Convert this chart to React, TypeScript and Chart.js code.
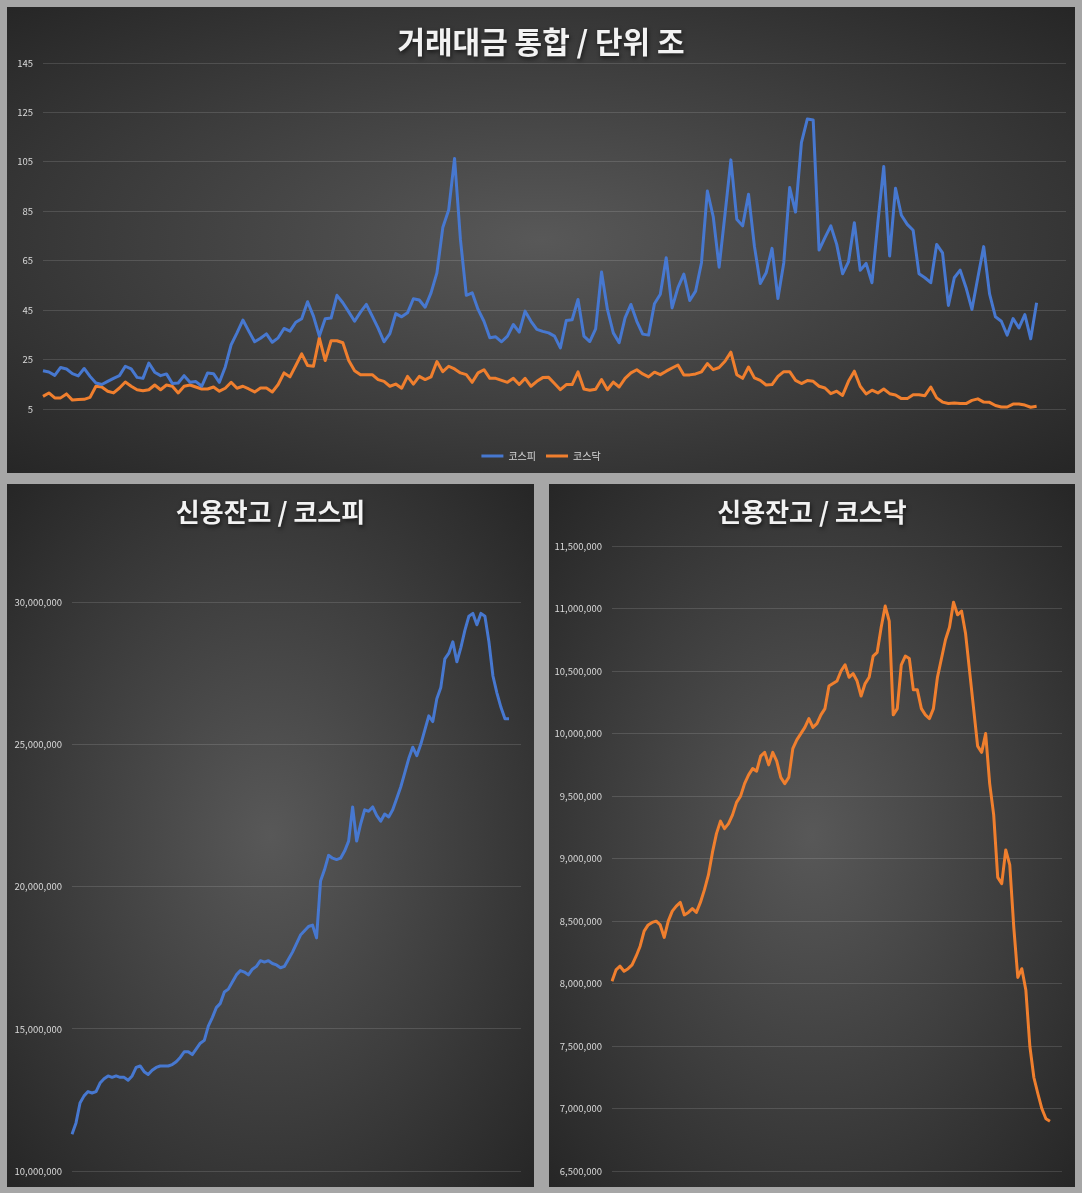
import React, { useEffect, useRef } from "react";
import { Chart, registerables } from "chart.js";

Chart.register(...registerables);

// ---------- data ----------
// 거래대금 (단위: 조)
const kospiTurnover = [
  20.5, 20, 18.6, 21.8, 21.2, 19.3, 18.4, 21.4, 18.2, 15.5, 14.9, 16.2, 17.4, 18.5, 22.3, 21.2, 17.8, 17.4, 23.6, 19.9,
  18.5, 19.2, 15.3, 15.5, 18.5, 15.8, 16.1, 14.2, 19.6, 19.3, 15.8, 22, 31, 35.8, 41, 36.5, 32.2, 33.6, 35.4, 32,
  33.8, 37.6, 36.5, 40.1,
  41.5, 48.4, 42.6, 34.5, 41.5, 41.8, 51, 48, 44.3, 40.5, 44.2, 47.3, 42.6, 37.7, 32.2, 35.5, 43.6, 42.3, 43.9, 49.6,
  49.1, 46.2, 52, 60.1, 78.4, 85.5, 106.4, 73.6, 51, 52, 45.3, 40.5, 33.8, 34.2, 32.2, 34.5, 39.2, 36.1, 44.6, 40.5,
  37.2, 36.4, 35.8,
  34.5, 29.7, 40.8, 41.1, 49.3, 34.5, 32.3, 37.4, 60.4, 45.3, 35.8, 31.8, 41.9, 47.3, 40.5, 35.3, 34.9, 47.6, 51.4, 66.2,
  45.9, 54.1, 59.6, 48.9, 52.7, 64.2, 93.2, 82.8, 62.4, 83.8, 105.8, 81.8, 79.1, 91.9, 70.9, 55.8, 60.1, 70, 49.7, 64.2,
  94.6, 84.7,
  112.8, 122.3, 121.9, 69.3, 74.3, 79.1, 71.6, 59.7, 64.5, 80.4, 61.1, 63.9, 56.1, 80.4, 103.1, 66.9, 94.3, 83.4, 79.7, 77.3,
  59.7, 58.1, 56.1, 71.6, 68.2, 46.9, 58.1, 61.2, 54.1, 45.3, 58.1, 70.7, 51.6, 42.3, 40.5, 34.9, 41.6, 37.8, 43.2, 33.4,
  48,
];
const kosdaqTurnover = [
  10.1, 11.5, 9.5, 9.5, 11.1, 8.6, 8.8, 8.9, 9.7, 14.2, 13.9, 12.2, 11.5, 13.5, 15.9, 14.2, 12.8, 12.4, 12.8, 14.7,
  12.8, 14.7, 14.2, 11.5, 14.2, 14.7, 13.9, 13.1, 13.1, 13.9, 12.2, 13.4, 15.8, 13.4, 14.2, 13.1, 11.9, 13.5, 13.5, 11.9,
  14.9, 19.6, 18, 22.6,
  27.3, 22.6, 22.3, 33.8, 24.6, 32.6, 32.6, 31.8, 24.6, 20.5, 18.9, 18.9, 18.9, 16.9, 16.2, 14.2, 15.1, 13.4, 18.2, 15.1,
  18.2, 16.9, 18, 24.2, 20.1, 22.3, 21.2, 19.6, 18.9, 15.8, 19.6, 20.9, 17.4, 17.4, 16.6, 15.8, 17.4, 14.9, 17.4, 14.2,
  16.2, 17.7, 17.8,
  15.3, 12.8, 14.9, 14.9, 20, 13.1, 12.6, 13, 16.9, 12.8, 15.9, 13.9, 17.4, 19.6, 20.9, 19.2, 18, 19.9, 18.9, 20.3,
  21.6, 22.8, 18.8, 18.8, 19.2, 20, 23.4, 20.9, 21.8, 24.3, 28, 18.9, 17.4, 22, 17.6, 16.6, 14.7, 14.9, 18.2, 20.1,
  20.1, 16.6,
  15.3, 16.5, 16.2, 14.2, 13.5, 11.2, 12.2, 10.5, 16.2, 20.3, 14.2, 11.1, 12.6, 11.5, 13.1, 11.2, 10.7, 9.2, 9.2, 10.8,
  10.8, 10.4, 13.9, 9.5, 7.8, 7.2, 7.4, 7.2, 7.2, 8.5, 9.1, 7.8, 7.7, 6.4, 5.8, 5.8, 7, 7, 6.6, 5.7,
  6.1,
];
const turnoverAxis = { min: 5, max: 145, step: 20 };
const turnoverEmptyTail = 5;

// 신용잔고 / 코스피 (values in millions of won)
const kospiCreditM = [
  11.3, 11.7, 12.4, 12.65, 12.8, 12.75, 12.8, 13.1, 13.25, 13.35,
  13.3, 13.35, 13.3, 13.3, 13.2, 13.35, 13.65, 13.7, 13.5, 13.4,
  13.55, 13.65, 13.7, 13.7, 13.7, 13.75, 13.85, 14.0, 14.2, 14.2,
  14.1, 14.3, 14.5, 14.6, 15.1, 15.4, 15.75, 15.9, 16.3, 16.4,
  16.65, 16.9, 17.05, 17.0, 16.9, 17.1, 17.2, 17.4, 17.35, 17.4,
  17.3, 17.25, 17.15, 17.2, 17.45, 17.7, 18.0, 18.3, 18.45, 18.6,
  18.65, 18.2, 20.2, 20.6, 21.1, 21.0, 20.95, 21.0, 21.25, 21.6,
  22.8, 21.6, 22.2, 22.7, 22.65, 22.8, 22.5, 22.3, 22.55, 22.45,
  22.7, 23.1, 23.5, 24.0, 24.5, 24.9, 24.6, 25.0, 25.5, 26.0,
  25.8, 26.6, 27.0, 28.0, 28.2, 28.6, 27.9, 28.4, 29.0, 29.5,
  29.6, 29.2, 29.6, 29.5, 28.6, 27.4, 26.8, 26.3, 25.9, 25.9,
];
const kospiCreditAxis = { min: 10000000, max: 30000000, step: 5000000 };

// 신용잔고 / 코스닥 (values in millions of won)
const kosdaqCreditM = [
  8.02, 8.11, 8.14, 8.1, 8.12, 8.15, 8.22, 8.3, 8.42, 8.47,
  8.49, 8.5, 8.47, 8.37, 8.5, 8.58, 8.62, 8.65, 8.55, 8.57,
  8.6, 8.57, 8.65, 8.75, 8.87, 9.05, 9.2, 9.3, 9.24, 9.28,
  9.35, 9.45, 9.5, 9.6, 9.67, 9.72, 9.7, 9.82, 9.85, 9.75,
  9.85, 9.78, 9.65, 9.6, 9.65, 9.88, 9.95, 10.0, 10.05, 10.12,
  10.05, 10.08, 10.15, 10.2, 10.38, 10.4, 10.42, 10.5, 10.55, 10.45,
  10.48, 10.42, 10.3, 10.4, 10.45, 10.62, 10.65, 10.85, 11.02, 10.9,
  10.15, 10.2, 10.55, 10.62, 10.6, 10.35, 10.35, 10.2, 10.15, 10.12,
  10.2, 10.45, 10.6, 10.75, 10.85, 11.05, 10.95, 10.98, 10.8, 10.5,
  10.2, 9.9, 9.85, 10.0, 9.6, 9.35, 8.85, 8.8, 9.07, 8.95,
  8.45, 8.05, 8.12, 7.95, 7.5, 7.25, 7.12, 7.0, 6.92, 6.9,
];
const kosdaqCreditAxis = { min: 6500000, max: 11500000, step: 500000 };
const creditEmptyTail = 3;

const seriesNames = ["코스피", "코스닥"];
const titles = ["거래대금 통합 / 단위 조", "신용잔고 / 코스피", "신용잔고 / 코스닥"];

// ---------- styles ----------
const FONT = "'Noto Sans CJK KR', 'Noto Sans', sans-serif";
const BLUE = "#4778d0";
const ORANGE = "#f07f2e";
const GRID = "rgba(255,255,255,0.13)";
const TICK = "#d9d9d9";
const PANEL_BG = "radial-gradient(ellipse farthest-corner at 50% 50%, #585858 0%, #3d3d3d 55%, #262626 100%)";

const makeLabels = (n: number) => Array.from({ length: n }, (_, i) => String(i + 1));
const fmt = (v: any) => Number(v).toLocaleString("en-US");

// Center title and legend on the whole canvas, and give the title a soft drop shadow.
const centerBlocks = {
  id: "centerBlocks",
  afterLayout(chart: any) {
    for (const b of [chart.titleBlock, chart.legend]) {
      if (b && b.options && b.options.display) {
        b.left = 0;
        b.right = chart.width;
        b.width = chart.width;
      }
    }
    const t = chart.titleBlock;
    if (t && !t.__shadowed) {
      const orig = t.draw.bind(t);
      t.draw = (...args: any[]) => {
        const ctx = chart.ctx;
        ctx.save();
        ctx.shadowColor = "rgba(0,0,0,0.65)";
        ctx.shadowBlur = 4;
        ctx.shadowOffsetX = 1;
        ctx.shadowOffsetY = 2;
        orig(...args);
        ctx.restore();
      };
      t.__shadowed = true;
    }
  },
};

function lineDs(label: string, data: number[], color: string) {
  return {
    label,
    data,
    borderColor: color,
    backgroundColor: color,
    borderWidth: 3,
    pointRadius: 0,
    pointHoverRadius: 0,
    tension: 0,
    borderJoinStyle: "round" as const,
  };
}

function topConfig(): any {
  return {
    type: "line",
    data: {
      labels: makeLabels(kospiTurnover.length + turnoverEmptyTail),
      datasets: [lineDs(seriesNames[0], kospiTurnover, BLUE), lineDs(seriesNames[1], kosdaqTurnover, ORANGE)],
    },
    plugins: [centerBlocks],
    options: {
      responsive: false,
      animation: false,
      devicePixelRatio: 1,
      layout: { padding: { left: 0, right: 9, top: 0, bottom: 2 } },
      plugins: {
        title: {
          display: true,
          text: titles[0],
          color: "#f2f2f2",
          font: { size: 30, weight: "bold", family: FONT, lineHeight: 1.2 },
          padding: { top: 17, bottom: 3 },
        },
        legend: {
          position: "bottom",
          labels: {
            color: TICK,
            font: { size: 10, family: FONT },
            usePointStyle: true,
            pointStyle: "line",
            pointStyleWidth: 22,
            padding: 10,
          },
        },
        tooltip: { enabled: false },
      },
      scales: {
        x: {
          display: true,
          grid: { display: false },
          border: { display: false },
          ticks: { display: false },
          afterFit: (s: any) => {
            s.height = 32;
          },
        },
        y: {
          min: turnoverAxis.min,
          max: turnoverAxis.max,
          ticks: { stepSize: turnoverAxis.step, color: TICK, font: { size: 9.5, family: FONT }, padding: 10 },
          grid: { color: GRID, drawTicks: false },
          border: { display: false },
          afterFit: (s: any) => {
            s.width = 36;
          },
        },
      },
    },
  };
}

function creditConfig(
  title: string,
  name: string,
  valuesM: number[],
  color: string,
  axis: { min: number; max: number; step: number },
  yWidth: number,
  pad: { right: number; bottom: number; titleTop: number; titleBottom: number }
): any {
  return {
    type: "line",
    data: {
      labels: makeLabels(valuesM.length + creditEmptyTail),
      datasets: [lineDs(name, valuesM.map((v) => Math.round(v * 1000000)), color)],
    },
    plugins: [centerBlocks],
    options: {
      responsive: false,
      animation: false,
      devicePixelRatio: 1,
      layout: { padding: { left: 0, right: pad.right, top: 0, bottom: pad.bottom } },
      plugins: {
        title: {
          display: true,
          text: title,
          color: "#f2f2f2",
          font: { size: 26, weight: "bold", family: FONT, lineHeight: 1.2 },
          padding: { top: pad.titleTop, bottom: pad.titleBottom },
        },
        legend: { display: false },
        tooltip: { enabled: false },
      },
      scales: {
        x: { display: false },
        y: {
          min: axis.min,
          max: axis.max,
          ticks: {
            stepSize: axis.step,
            color: TICK,
            font: { size: 9.5, family: FONT },
            padding: 10,
            callback: (v: any) => fmt(v),
          },
          grid: { color: GRID, drawTicks: false },
          border: { display: false },
          afterFit: (s: any) => {
            s.width = yWidth;
          },
        },
      },
    },
  };
}

function Panel(props: { left: number; top: number; width: number; height: number; config: () => any }) {
  const ref = useRef<HTMLCanvasElement>(null);
  useEffect(() => {
    const chart = new Chart(ref.current as HTMLCanvasElement, props.config());
    return () => chart.destroy();
  }, []);
  return (
    <div
      style={{
        position: "absolute",
        left: props.left,
        top: props.top,
        width: props.width,
        height: props.height,
        background: PANEL_BG,
      }}
    >
      <canvas
        ref={ref}
        width={props.width}
        height={props.height}
        style={{ display: "block", width: props.width, height: props.height }}
      />
    </div>
  );
}

export default function App() {
  return (
    <div
      style={{
        position: "absolute",
        left: 0,
        top: 0,
        width: 1082,
        height: 1193,
        background: "#a6a6a6",
        overflow: "hidden",
      }}
    >
      <Panel left={7} top={7} width={1068} height={466} config={topConfig} />
      <Panel
        left={7}
        top={484}
        width={527}
        height={703}
        config={() =>
          creditConfig(titles[1], seriesNames[0], kospiCreditM, BLUE, kospiCreditAxis, 65, {
            right: 13,
            bottom: 14,
            titleTop: 12.4,
            titleBottom: 74.4,
          })
        }
      />
      <Panel
        left={549}
        top={484}
        width={526}
        height={703}
        config={() =>
          creditConfig(titles[2], seriesNames[1], kosdaqCreditM, ORANGE, kosdaqCreditAxis, 63, {
            right: 13,
            bottom: 15,
            titleTop: 12.4,
            titleBottom: 18.4,
          })
        }
      />
    </div>
  );
}
